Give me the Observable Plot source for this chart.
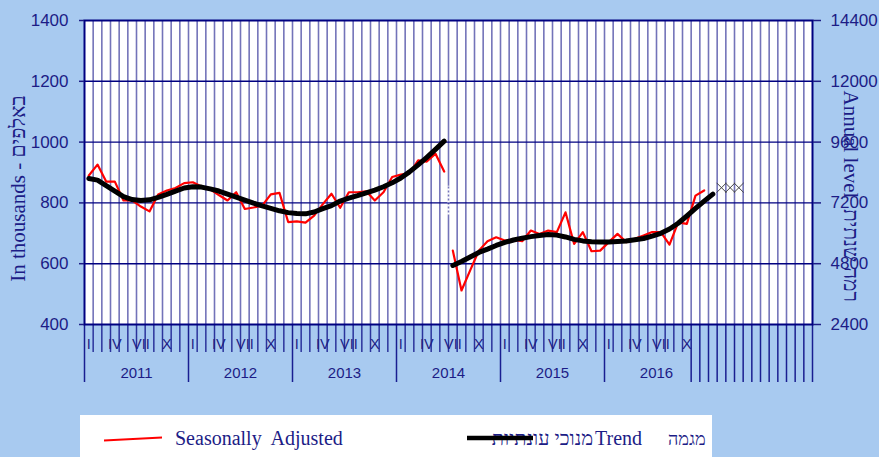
<!DOCTYPE html>
<html><head><meta charset="utf-8">
<script src="https://cdn.jsdelivr.net/npm/d3@7"></script>
<script src="https://cdn.jsdelivr.net/npm/@observablehq/plot@0.6"></script>
<style>
html,body{margin:0;padding:0;background:#a8caf0;overflow:hidden;}
#chart svg{display:block;}
#legend{display:block;}
</style></head><body>
<div id="chart"></div>
<svg id="legend" width="879" height="42"></svg>
<script>
// ---- data ----
const years = [2011, 2012, 2013, 2014, 2015, 2016];
const monthLabels = ["I", "IV", "VII", "X"];
const monthLabelOffsets = [0, 3, 6, 9];
const leftTicks = [400, 600, 800, 1000, 1200, 1400];
const rightTickLabels = ["2400", "4800", "7200", "9600", "12000", "14400"];
const totalMonths = 84; // Jan 2011 .. Dec 2017

// Seasonally adjusted, Jan 2011 - Jun 2014
const saSeg1Start = 0;
const saSeg1 = [
  890, 926, 870, 870, 808, 808, 788, 772, 828, 841, 849, 865,
  868, 854, 845, 826, 808, 835, 780, 785, 791, 828, 833, 737,
  739, 735, 758, 796, 830, 784, 835, 835, 838, 808, 835, 885,
  893, 897, 940, 936, 962, 903
];
// Seasonally adjusted, Jul 2014 - Dec 2016
const saSeg2Start = 42;
const saSeg2 = [
  643, 512, 578, 643, 674, 687,
  676, 679, 674, 709, 698, 709, 704, 769, 665, 704, 641, 643,
  671, 698, 671, 682, 693, 704, 704, 663, 736, 731, 824, 841
];
// Trend, Jan 2011 - Jun 2014
const trendSeg1Start = 0;
const trendSeg1 = [
  880, 875, 857, 839, 821, 811, 808, 810, 818, 828, 839, 849,
  853, 852, 846, 839, 829, 819, 809, 799, 790, 782, 774, 768,
  765, 764, 770, 781, 791, 806, 816, 824, 833, 842, 853, 866,
  882, 902, 925, 950, 976, 1003
];
// Trend, Jul 2014 - Jan 2017
const trendSeg2Start = 42;
const trendSeg2 = [
  594, 607, 622, 637, 648, 660,
  670, 678, 684, 689, 693, 696, 694, 688, 680, 675, 672, 671,
  671, 673, 675, 679, 683, 691, 700, 714, 733, 757, 782, 806,
  829
];
// provisional marks after the end
const markMonths = [73, 74, 75];
const markValues = [850, 850, 850];
// break marker
const breakMonth = 42;
const breakRange = [760, 855];

// ---- build tables ----
function rows(start, vals, seg) {
  return vals.map((v, i) => ({m: start + i + 0.5, v, seg}));
}
const saRows = [...rows(saSeg1Start, saSeg1, "a"), ...rows(saSeg2Start, saSeg2, "b")];
const trendRows = [...rows(trendSeg1Start, trendSeg1, "a"), ...rows(trendSeg2Start, trendSeg2, "b")];
const markRows = markMonths.map((m, i) => ({m: m + 0.5, v: markValues[i]}));

const navy = "#000080";
const textNavy = "#1c1c86";
const boundaries = d3.range(0, totalMonths + 1);
const longTicks = boundaries.filter(k => k % 12 === 0 || k >= 70);
const shortTicks = boundaries.filter(k => !(k % 12 === 0 || k >= 70));
const monthLabelPos = [];
const monthLabelText = new Map();
years.forEach((y, yi) => monthLabelOffsets.forEach((o, j) => {
  const p = yi * 12 + o + 0.5;
  monthLabelPos.push(p);
  monthLabelText.set(p, monthLabels[j]);
}));
const yearPos = years.map((y, i) => i * 12 + 6);

const chart = Plot.plot({
  width: 879,
  height: 415,
  marginLeft: 84,
  marginRight: 67,
  marginTop: 20,
  marginBottom: 91,
  style: {background: "transparent", fontFamily: "'Liberation Sans', Arial, sans-serif"},
  x: {type: "linear", domain: [0, totalMonths]},
  y: {domain: [400, 1400]},
  marks: [
    Plot.frame({fill: "white"}),
    Plot.ruleX(d3.range(1, totalMonths), {stroke: navy, strokeOpacity: 0.55, strokeWidth: 1.6}),
    Plot.ruleY([600, 800, 1000, 1200], {stroke: navy, strokeWidth: 1.4}),
    Plot.ruleX([breakMonth], {y1: breakRange[0], y2: breakRange[1], stroke: "white", strokeWidth: 2.5, strokeDasharray: "2,2"}),
    Plot.line(saRows, {x: "m", y: "v", z: "seg", stroke: "#ff0000", strokeWidth: 2.2}),
    Plot.line(trendRows, {x: "m", y: "v", z: "seg", stroke: "#000", strokeWidth: 5, strokeLinecap: "round"}),
    Plot.dot(markRows, {x: "m", y: "v", symbol: "times", r: 4.5, stroke: "#444", strokeWidth: 1}),
    Plot.frame({stroke: navy, strokeWidth: 2}),
    Plot.axisX(shortTicks, {anchor: "bottom", tickSize: 28, tickFormat: () => "", color: navy, strokeOpacity: 0.75, strokeWidth: 1.5, label: null}),
    Plot.axisX(longTicks, {anchor: "bottom", tickSize: 58, tickFormat: () => "", color: navy, strokeOpacity: 0.85, strokeWidth: 1.5, label: null}),
    Plot.axisX(monthLabelPos, {anchor: "bottom", tickSize: 0, tickPadding: 14, tickFormat: d => monthLabelText.get(d), fontSize: 14.5, color: textNavy, label: null}),
    Plot.axisX(yearPos, {anchor: "bottom", tickSize: 0, tickPadding: 43, tickFormat: d => String(years[(d - 6) / 12]), fontSize: 15, color: textNavy, label: null}),
    Plot.axisY(leftTicks, {anchor: "left", tickSize: 5, tickPadding: 11, fontSize: 17, color: textNavy, strokeWidth: 1.5, label: null,
      tickFormat: d => String(d)}),
    Plot.axisY(leftTicks, {anchor: "right", tickSize: 8, tickPadding: 10, fontSize: 17, color: textNavy, strokeWidth: 1.5, label: null,
      tickFormat: d => rightTickLabels[leftTicks.indexOf(d)]}),
    Plot.text(["In thousands - באלפים"], {text: d => d, frameAnchor: "left", rotate: -90, textAnchor: "middle", dx: -66, dy: 16,
      fontSize: 21, fontFamily: "'Liberation Serif', 'Times New Roman', serif", fill: textNavy}),
    Plot.text(["Annual level  רמה שנתית"], {text: d => d, frameAnchor: "right", rotate: 90, textAnchor: "start", dx: 38, dy: -82,
      fontSize: 21, fontFamily: "'Liberation Serif', 'Times New Roman', serif", fill: textNavy})
  ]
});
document.getElementById("chart").appendChild(chart);

// ---- legend ----
const lg = d3.select("#legend");
const serif = "'Liberation Serif', 'Times New Roman', serif";
lg.append("rect").attr("x", 80).attr("y", 0).attr("width", 632).attr("height", 42).attr("fill", "white");
lg.append("line").attr("x1", 104).attr("x2", 162).attr("y1", 25.5).attr("y2", 22.5).attr("stroke", "#ff0000").attr("stroke-width", 2);
lg.append("text").attr("x", 175).attr("y", 30).attr("font-family", serif).attr("font-size", 20).attr("fill", textNavy)
  .attr("xml:space", "preserve").style("white-space", "pre").text("Seasonally  Adjusted");
lg.append("text").attr("x", 593).attr("y", 30).attr("text-anchor", "end").attr("font-family", serif).attr("font-size", 20).attr("fill", textNavy).text("מנוכי עונתיות");
lg.append("line").attr("x1", 467).attr("x2", 533).attr("y1", 23).attr("y2", 23).attr("stroke", "#000").attr("stroke-width", 4.5);
lg.append("text").attr("x", 595).attr("y", 30).attr("font-family", serif).attr("font-size", 20).attr("fill", textNavy).text("Trend");
lg.append("text").attr("x", 668).attr("y", 30).attr("font-family", serif).attr("font-size", 18).attr("fill", textNavy).text("מגמה");
</script>
</body></html>
